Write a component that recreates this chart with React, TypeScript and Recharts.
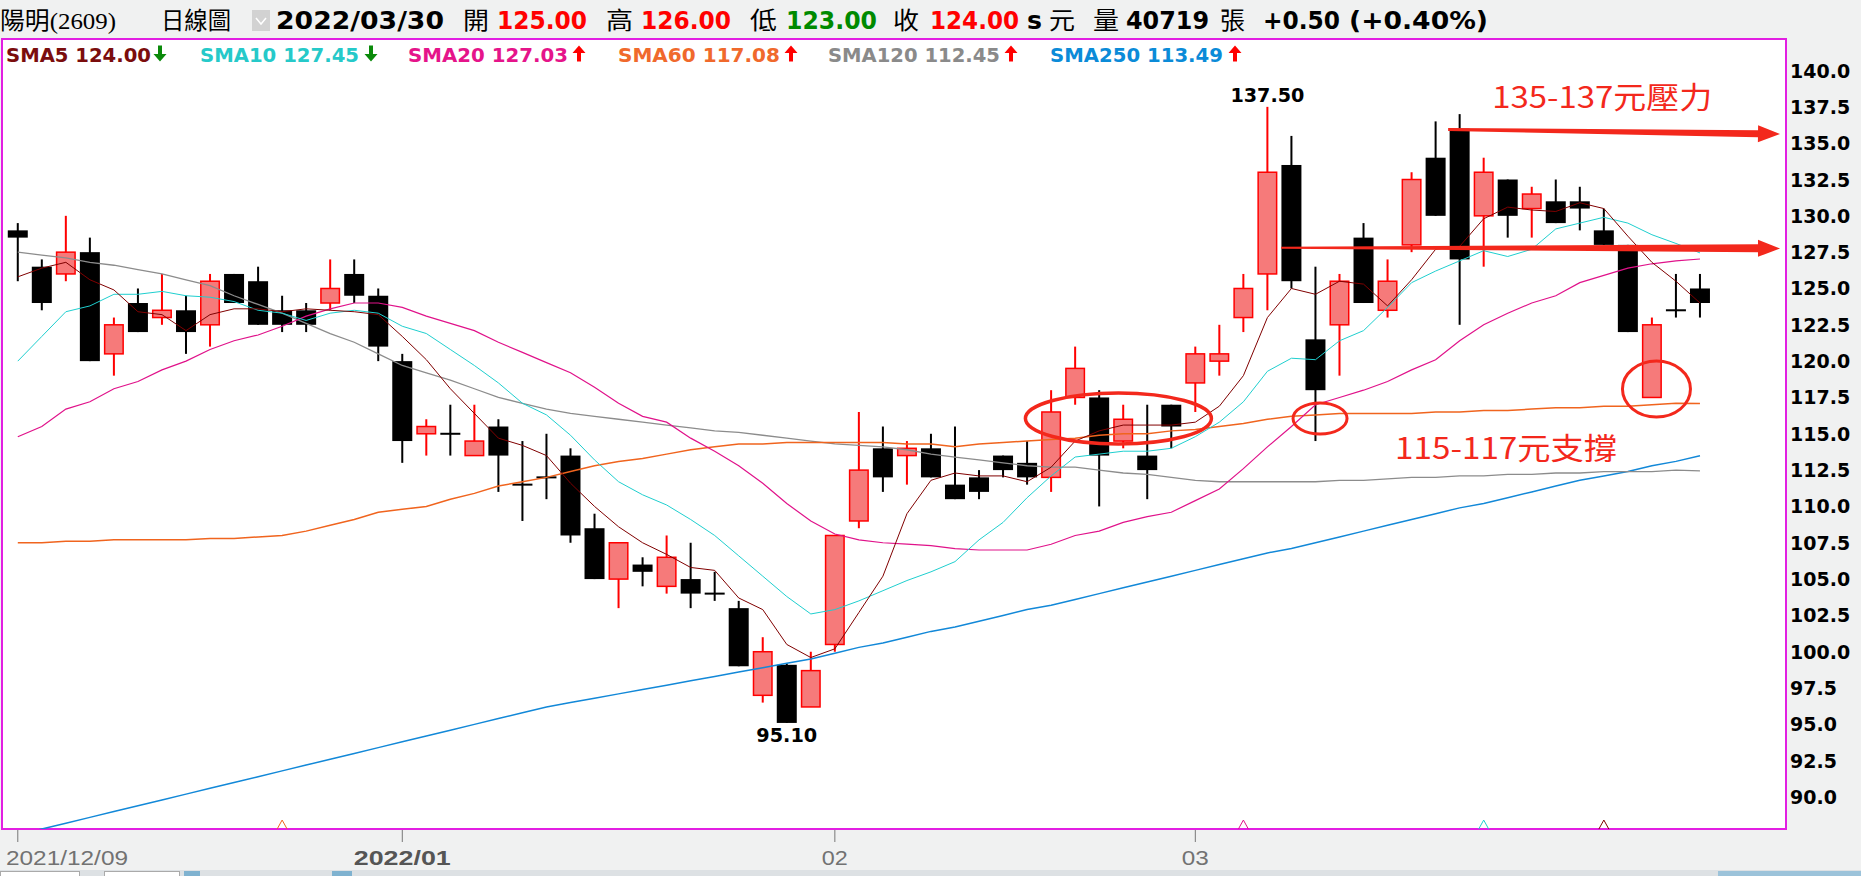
import React from 'react';
import { ComposedChart, Bar, Line, XAxis, YAxis, ReferenceLine, ReferenceDot } from 'recharts';

// ---------------- DATA ----------------
const opens = [129.0,126.5,126.0,127.5,120.5,124.0,123.0,123.5,122.5,126.0, 125.5,123.5,123.5,124.0,126.0,124.5,120.0,115.0,115.0,113.5, 115.5,111.5,112.0,113.5,108.5,105.0,106.0,104.5,105.0,104.0, 103.0,97.0,99.1,96.2,100.5,109.0,114.0,113.5,114.0,111.5, 112.0,113.5,113.0,112.0,117.5,117.5,114.5,113.5,117.0,118.5, 120.0,123.0,126.0,133.5,121.5,122.5,128.5,123.5,128.0,134.0, 136.0,130.0,132.5,130.5,131.0,131.0,129.0,128.0,117.5,123.5, 125.0];
const highs = [129.5,127.0,130.0,128.5,123.0,125.0,126.0,124.5,126.0,126.0, 126.5,124.5,124.0,127.0,127.0,125.0,120.5,116.0,117.0,117.0, 116.0,114.5,115.0,114.0,109.5,107.5,106.5,108.0,107.5,105.5, 103.5,101.0,99.2,100.0,108.0,116.5,115.5,114.5,115.0,115.5, 112.5,113.5,114.5,118.0,121.0,118.0,117.0,117.0,117.0,121.0, 122.5,126.0,137.5,135.5,126.5,126.0,129.5,127.0,133.0,136.5, 137.0,134.0,132.5,132.0,132.5,132.0,130.5,128.0,123.0,126.0, 126.0];
const lows = [125.5,123.5,125.5,120.0,119.0,122.0,122.5,120.5,121.0,124.0, 122.5,122.0,122.0,123.5,124.0,120.0,113.0,113.5,113.5,113.5, 111.0,109.0,110.5,107.5,105.0,103.0,104.5,104.0,103.0,103.5, 99.0,96.5,95.1,96.2,100.0,108.5,111.0,111.5,112.0,110.5, 110.5,112.0,111.5,111.0,117.0,110.0,114.0,110.5,114.0,116.5, 119.0,122.0,123.5,125.0,114.5,119.0,124.0,123.0,127.5,130.0, 122.5,126.5,128.5,128.5,129.5,129.0,128.0,122.0,117.5,123.0, 123.0];
const closes = [128.5,124.0,127.5,120.0,122.5,122.0,123.5,122.0,125.5,124.0, 122.5,122.5,122.5,125.0,124.5,121.0,114.5,115.5,115.0,114.5, 113.5,111.5,112.0,108.0,105.0,107.5,105.5,106.5,104.0,104.0, 99.0,100.0,95.1,98.7,108.0,112.5,112.0,114.0,112.0,110.5, 111.0,112.5,112.0,116.5,119.5,113.5,116.0,112.5,115.5,120.5, 120.5,125.0,133.0,125.5,118.0,125.5,124.0,125.5,132.5,130.0, 127.0,133.0,130.0,131.5,129.5,130.5,128.0,122.0,122.5,123.5, 124.0];

const sma5 = [125.8,126.4,126.8,125.6,124.9,123.4,123.2,122.1,123.2,123.6, 123.6,123.4,123.6,123.5,123.4,123.2,121.7,120.1,118.1,116.4, 114.7,114.2,113.5,111.6,110.0,108.6,107.5,106.7,105.8,105.6, 103.7,102.9,100.5,99.6,100.2,102.7,105.2,109.5,111.8,112.3, 112.1,112.1,111.7,112.7,114.5,115.2,115.6,115.6,115.6,115.8, 116.9,119.0,123.0,125.0,124.6,125.5,125.3,123.8,125.6,127.7, 127.9,129.8,130.6,130.4,130.3,130.9,130.5,128.6,126.8,125.5, 124.0];
const sma10 = [120.0,121.7,123.4,123.8,124.6,124.6,124.8,124.5,124.4,124.1, 123.5,123.3,122.8,123.3,123.5,123.3,122.4,121.9,120.8,119.7, 118.5,117.1,116.3,114.9,113.2,111.7,110.8,110.1,109.1,108.0, 106.6,105.2,103.8,102.6,102.9,103.5,104.2,104.9,105.5,106.2, 107.7,108.9,110.6,112.1,113.4,113.6,113.8,113.8,114.0,114.8, 115.8,117.2,119.3,120.2,120.1,121.4,122.1,123.7,125.4,126.2, 126.9,127.6,127.2,127.7,129.1,129.5,129.9,129.5,128.7,128.1, 127.45];
const sma20 = [114.8,115.5,116.7,117.2,118.1,118.6,119.4,120.0,120.8,121.4, 121.8,122.4,123.1,123.6,124.0,124.0,123.7,123.1,122.6,122.1, 121.3,120.6,119.9,119.2,118.2,117.1,116.2,115.8,114.7,113.8, 112.8,111.6,110.2,109.0,108.1,107.7,107.5,107.4,107.3,107.1, 107.0,107.0,107.0,107.4,108.0,108.3,108.9,109.3,109.6,110.4, 111.2,112.6,114.1,115.5,117.0,117.5,118.0,118.6,119.4,120.1, 121.4,122.5,123.3,124.0,124.5,125.4,125.9,126.4,126.7,126.9, 127.03];
const sma60 = [107.5,107.5,107.6,107.6,107.7,107.7,107.7,107.7,107.8,107.8, 107.9,108.0,108.3,108.7,109.1,109.6,109.8,110.0,110.5,110.9, 111.4,111.7,112.0,112.4,112.8,113.1,113.3,113.6,113.9,114.1, 114.3,114.3,114.4,114.4,114.4,114.4,114.4,114.3,114.3,114.1, 114.3,114.4,114.5,114.6,114.7,114.9,115.0,115.0,115.2,115.3, 115.5,115.7,116.0,116.2,116.3,116.4,116.4,116.4,116.4,116.5, 116.5,116.6,116.6,116.7,116.8,116.8,116.9,116.9,117.0,117.1, 117.08];
const sma120 = [127.5,127.3,127.1,126.8,126.6,126.3,126.0,125.6,125.2,124.5, 123.9,123.3,122.6,121.9,121.3,120.5,119.7,119.2,118.7,118.1, 117.5,117.1,116.7,116.4,116.2,116.0,115.8,115.6,115.4,115.2, 115.1,114.9,114.7,114.5,114.3,114.2,114.1,113.9,113.6,113.4, 113.2,113.0,112.8,112.7,112.7,112.5,112.3,112.2,112.0,111.8, 111.7,111.7,111.7,111.7,111.7,111.8,111.8,111.9,112.0,112.0, 112.1,112.1,112.2,112.2,112.3,112.3,112.4,112.4,112.4,112.5, 112.45];
const sma250 = [87.4,87.8,88.2,88.6,89.0,89.4,89.8,90.2,90.6,91.0, 91.4,91.8,92.2,92.6,93.0,93.4,93.8,94.2,94.6,95.0, 95.4,95.8,96.2,96.5,96.8,97.1,97.4,97.7,98.0,98.3, 98.6,98.9,99.2,99.5,99.9,100.3,100.6,101.0,101.4,101.7, 102.1,102.5,102.9,103.2,103.6,104.0,104.4,104.8,105.2,105.6, 106.0,106.4,106.8,107.1,107.5,107.9,108.3,108.7,109.1,109.5, 109.9,110.2,110.6,111.0,111.4,111.8,112.1,112.4,112.8,113.1, 113.49];

const xTickIndex = [0, 16, 34, 49];
const xTickLabels = ['2021/12/09', '2022/01', '02', '03'];
const yTicks = [90, 92.5, 95, 97.5, 100, 102.5, 105, 107.5, 110, 112.5, 115, 117.5, 120, 122.5, 125, 127.5, 130, 132.5, 135, 137.5, 140];

const smaNames = ['SMA5', 'SMA10', 'SMA20', 'SMA60', 'SMA120', 'SMA250'];
const smaSeries = [sma5, sma10, sma20, sma60, sma120, sma250];
const smaTrendUp = [false, false, true, true, true, true];
const markerIndex = [11, 51, 61, 66]; // 扣抵 markers for SMA60, SMA20, SMA10, SMA5
const markerSeries = [3, 2, 1, 0];

const stockName = '陽明(2609)';
const periodName = '日線圖';
const barDate = '2022/03/30';
const hdrOpen = '125.00', hdrHigh = '126.00', hdrLow = '123.00', hdrClose = '124.00';
const hdrVolume = '40719';
const hdrChange = '+0.50', hdrChangePct = '(+0.40%)';

const highMark = { i: 52, v: 137.5, text: '137.50' };
const lowMark = { i: 32, v: 95.1, text: '95.10' };
const resistText = '135-137元壓力';
const supportText = '115-117元支撐';

// ---------------- STYLES ----------------
const smaColors = ['#800000', '#1fcfcf', '#e0128a', '#f0641e', '#8c8c8c', '#1288d8'];
const smaLegendColors = ['#7b0d0d', '#26c9c9', '#e5148a', '#f0692c', '#8a8a8a', '#0b8bd8'];
const smaWidths = [1, 1, 1.2, 1.5, 1.3, 1.5];
const FONT_B = "'DejaVu Sans', Verdana, sans-serif";
const FONT_CJK = "'Noto Sans CJK TC', 'Noto Sans CJK SC', sans-serif";
const ANNO_RED = '#f3281c';
const UP_RED = '#ff0000';
const UP_FILL = '#f67a7a';

const data = opens.map((o, i) => ({
  i,
  open: o,
  high: highs[i],
  low: lows[i],
  close: closes[i],
  range: [lows[i], highs[i]],
  s0: sma5[i], s1: sma10[i], s2: sma20[i], s3: sma60[i], s4: sma120[i], s5: sma250[i],
}));

const Candle = (props: any) => {
  const { x, y, width, height, payload } = props;
  if (x == null || y == null) return null;
  const { open, close, high, low } = payload;
  const top = Math.min(y, y + height);
  const h = Math.abs(height);
  const span = high - low;
  const py = (v: number) => (span === 0 ? top : top + ((high - v) / span) * h);
  const cx = x + width / 2;
  const up = close > open;
  const doji = close === open;
  const col = up ? UP_RED : '#000';
  const bTop = py(Math.max(open, close));
  const bBot = py(Math.min(open, close));
  return (
    <g>
      <rect x={cx - 1} y={top} width={2} height={Math.max(h, 1)} fill={col} />
      {doji ? (
        <rect x={cx - 10} y={bTop - 1} width={20} height={2} fill="#000" />
      ) : up ? (
        <rect x={cx - 9.25} y={bTop} width={18.5} height={Math.max(bBot - bTop, 1)} fill={UP_FILL} stroke={UP_RED} strokeWidth={1.5} />
      ) : (
        <rect x={cx - 10} y={bTop} width={20} height={Math.max(bBot - bTop, 1.5)} fill="#000" />
      )}
    </g>
  );
};

const xLabelWidths = [122, 97, 26, 27];
const XTick = (props: any) => {
  const { x, payload } = props;
  const k = xTickIndex.indexOf(payload.value);
  const label = xTickLabels[k] ?? '';
  const first = k === 0;
  const bold = k === 1;
  return (
    <g>
      <line x1={x} x2={x} y1={830} y2={842} stroke="#777" strokeWidth={1} />
      <text x={first ? 6 : x} y={865} textAnchor={first ? 'start' : 'middle'}
        fontFamily="'Liberation Sans', Arial, sans-serif" fontSize={21} fontWeight={bold ? 700 : 400}
        fill={bold ? '#555' : '#727272'} textLength={xLabelWidths[k]} lengthAdjust="spacingAndGlyphs">{label}</text>
    </g>
  );
};

const YTick = (props: any) => {
  const { y, payload } = props;
  return (
    <text x={1790} y={y + 7} fontFamily={FONT_B} fontWeight={700} fontSize={19} fill="#000">
      {Number(payload.value).toFixed(1)}
    </text>
  );
};

const ellipseShape = (rx: number, ry: number, sw: number) => (p: any) => (
  <ellipse cx={p.cx} cy={p.cy} rx={rx} ry={ry} fill="none" stroke={ANNO_RED} strokeWidth={sw} />
);

const arrowShape = (w0: number, w1: number, headLen: number, headHalf: number) => (p: any) => {
  const { x1, y1, x2, y2 } = p;
  if ([x1, y1, x2, y2].some((v) => v == null || isNaN(v))) return null;
  const dx = x2 - x1, dy = y2 - y1;
  const len = Math.hypot(dx, dy) || 1;
  const ux = dx / len, uy = dy / len;
  const nx = -uy, ny = ux;
  const bx = x2 - ux * headLen, by = y2 - uy * headLen;
  const pts = [
    [x1 + nx * w0, y1 + ny * w0], [bx + nx * w1, by + ny * w1], [bx + nx * headHalf, by + ny * headHalf],
    [x2, y2], [bx - nx * headHalf, by - ny * headHalf], [bx - nx * w1, by - ny * w1], [x1 - nx * w0, y1 - ny * w0],
  ];
  return <polygon points={pts.map((q) => q.join(',')).join(' ')} fill={ANNO_RED} />;
};

const textShape = (text: string, dy: number, size: number, color: string, family: string, weight: number, tl?: number) => (p: any) => (
  <text x={p.cx} y={p.cy + dy} textAnchor="middle" fontFamily={family} fontWeight={weight} fontSize={size} fill={color}
    textLength={tl} lengthAdjust={tl ? 'spacingAndGlyphs' : undefined}>{text}</text>
);

const caretShape = (color: string) => (p: any) => (
  <polyline points={`${p.cx - 5},${p.cy + 1.5} ${p.cx},${p.cy - 7.5} ${p.cx + 5},${p.cy + 1.5}`} fill="none" stroke={color} strokeWidth={1} />
);

const LegendArrow = ({ cx, up }: { cx: number; up: boolean }) =>
  up ? (
    <path d={`M${cx - 6.5},53 L${cx},45.5 L${cx + 6.5},53 L${cx + 2},53 L${cx + 2},61.5 L${cx - 2},61.5 L${cx - 2},53 Z`} fill="#ff0000" />
  ) : (
    <path d={`M${cx - 2},45.5 L${cx + 2},45.5 L${cx + 2},54 L${cx + 6.5},54 L${cx},61.5 L${cx - 6.5},54 L${cx - 2},54 Z`} fill="#0a8a0a" />
  );

const legendLayout = [
  { x: 6, w: 145, a: 160 },
  { x: 200, w: 159, a: 371 },
  { x: 408, w: 160, a: 579 },
  { x: 618, w: 162, a: 791 },
  { x: 828, w: 172, a: 1011 },
  { x: 1050, w: 173, a: 1235 },
];

const Header = () => {
  const items = [
    { x: 0, w: 116, t: stockName, f: "'Liberation Serif', 'Noto Sans CJK TC', serif", b: 400, c: '#000' },
    { x: 161, w: 70, t: periodName, f: FONT_CJK, b: 400, c: '#000' },
    { x: 276, w: 168, t: barDate, f: FONT_B, b: 700, c: '#000' },
    { x: 463, w: 26, t: '開', f: FONT_CJK, b: 400, c: '#000' },
    { x: 497, w: 90, t: hdrOpen, f: FONT_B, b: 700, c: '#ff0000' },
    { x: 606, w: 27, t: '高', f: FONT_CJK, b: 400, c: '#000' },
    { x: 641, w: 90, t: hdrHigh, f: FONT_B, b: 700, c: '#ff0000' },
    { x: 750, w: 27, t: '低', f: FONT_CJK, b: 400, c: '#000' },
    { x: 786, w: 91, t: hdrLow, f: FONT_B, b: 700, c: '#008a00' },
    { x: 893, w: 26, t: '收', f: FONT_CJK, b: 400, c: '#000' },
    { x: 930, w: 89, t: hdrClose, f: FONT_B, b: 700, c: '#ff0000' },
    { x: 1027, w: 15, t: 's', f: FONT_B, b: 700, c: '#000' },
    { x: 1049, w: 26, t: '元', f: FONT_CJK, b: 400, c: '#000' },
    { x: 1093, w: 26, t: '量', f: FONT_CJK, b: 400, c: '#000' },
    { x: 1126, w: 83, t: hdrVolume, f: FONT_B, b: 700, c: '#000' },
    { x: 1220, w: 25, t: '張', f: FONT_CJK, b: 400, c: '#000' },
    { x: 1263, w: 77, t: hdrChange, f: FONT_B, b: 700, c: '#000' },
    { x: 1349, w: 139, t: hdrChangePct, f: FONT_B, b: 700, c: '#000' },
  ];
  return (
    <svg width={1861} height={70} style={{ position: 'absolute', left: 0, top: 0, pointerEvents: 'none' }}>
      {items.map((it, k) => (
        <text key={k} x={it.x} y={29} fontFamily={it.f} fontWeight={it.b} fontSize={24} fill={it.c}
          textLength={it.w} lengthAdjust="spacingAndGlyphs">{it.t}</text>
      ))}
      <rect x={252} y={10} width={18} height={21} fill="#d2d2d2" />
      <polyline points="256,18 261,24 266,18" fill="none" stroke="#fff" strokeWidth={1.5} />
      {smaNames.map((n, k) => {
        const s = smaSeries[k];
        const lay = legendLayout[k];
        return (
          <g key={n}>
            <text x={lay.x} y={61.5} fontFamily={FONT_B} fontWeight={700} fontSize={19} fill={smaLegendColors[k]}
              textLength={lay.w} lengthAdjust="spacingAndGlyphs">{`${n} ${s[s.length - 1].toFixed(2)}`}</text>
            <LegendArrow cx={lay.a} up={smaTrendUp[k]} />
          </g>
        );
      })}
    </svg>
  );
};

export default function App() {
  return (
    <div style={{ position: 'absolute', left: 0, top: 0, width: 1861, height: 876, background: '#f0f1f1', overflow: 'hidden' }}>
      <div style={{ position: 'absolute', left: 1, top: 38, width: 1786, height: 792, boxSizing: 'border-box', border: '2px solid #e21fe2', background: '#fff' }} />
      <div style={{ position: 'absolute', left: 0, top: 0 }}>
        <ComposedChart width={1861} height={876} data={data} margin={{ top: 39, right: 0, bottom: 0, left: 2 }}>
          <XAxis type="number" dataKey="i" domain={[-0.657, 73.58]} allowDataOverflow ticks={xTickIndex} interval={0}
            tick={<XTick />} tickLine={false} axisLine={false} height={47} />
          <YAxis orientation="right" domain={[87.8, 142.17]} allowDataOverflow ticks={yTicks} interval={0}
            tick={<YTick />} tickLine={false} axisLine={false} width={75} />
          <Bar dataKey="range" barSize={20} shape={<Candle />} isAnimationActive={false} />
          {[5, 4, 3, 2, 1, 0].map((k) => (
            <Line key={k} type="linear" dataKey={`s${k}`} stroke={smaColors[k]} strokeWidth={smaWidths[k]} dot={false}
              activeDot={false} isAnimationActive={false} />
          ))}
          <ReferenceLine segment={[{ x: 59.52, y: 135.95 }, { x: 73.33, y: 135.63 }]} ifOverflow="visible" shape={arrowShape(1.5, 3.5, 22, 8.5)} />
          <ReferenceLine segment={[{ x: 52.57, y: 127.8 }, { x: 73.33, y: 127.76 }]} ifOverflow="visible" shape={arrowShape(1, 4, 22, 8.5)} />
          <ReferenceDot x={45.8} y={116.05} ifOverflow="visible" shape={ellipseShape(93, 25.5, 3.5)} />
          <ReferenceDot x={54.19} y={116.05} ifOverflow="visible" shape={ellipseShape(27, 15.5, 3)} />
          <ReferenceDot x={68.19} y={118.08} ifOverflow="visible" shape={ellipseShape(34, 28, 3)} />
          <ReferenceDot x={highMark.i} y={highMark.v} ifOverflow="visible" shape={textShape(highMark.text, -5, 19, '#000', FONT_B, 700, 74)} />
          <ReferenceDot x={lowMark.i} y={lowMark.v} ifOverflow="visible" shape={textShape(lowMark.text, 19, 19, '#000', FONT_B, 700, 61)} />
          <ReferenceDot x={65.93} y={137.45} ifOverflow="visible" shape={textShape(resistText, 0, 30, ANNO_RED, FONT_CJK, 400, 220)} />
          <ReferenceDot x={61.93} y={113.26} ifOverflow="visible" shape={textShape(supportText, 0, 30, ANNO_RED, FONT_CJK, 400, 222)} />
          {markerIndex.map((mi, k) => (
            <ReferenceDot key={mi} x={mi} y={87.9} ifOverflow="visible" shape={caretShape(smaColors[markerSeries[k]])} />
          ))}
        </ComposedChart>
      </div>
      <Header />
      <div style={{ position: 'absolute', left: 0, top: 870, width: 1861, height: 6, background: '#dde1e4' }}>
        <div style={{ position: 'absolute', left: 0, top: 1, width: 78, height: 5, background: '#fff', border: '1px solid #aaa' }} />
        <div style={{ position: 'absolute', left: 104, top: 1, width: 74, height: 5, background: '#fff', border: '1px solid #aaa' }} />
        <div style={{ position: 'absolute', left: 184, top: 1, width: 16, height: 5, background: '#7fb2d0' }} />
        <div style={{ position: 'absolute', left: 332, top: 1, width: 20, height: 5, background: '#7fb2d0' }} />
        <div style={{ position: 'absolute', left: 1718, top: 1, width: 143, height: 5, background: '#9cc3da' }} />
      </div>
    </div>
  );
}
